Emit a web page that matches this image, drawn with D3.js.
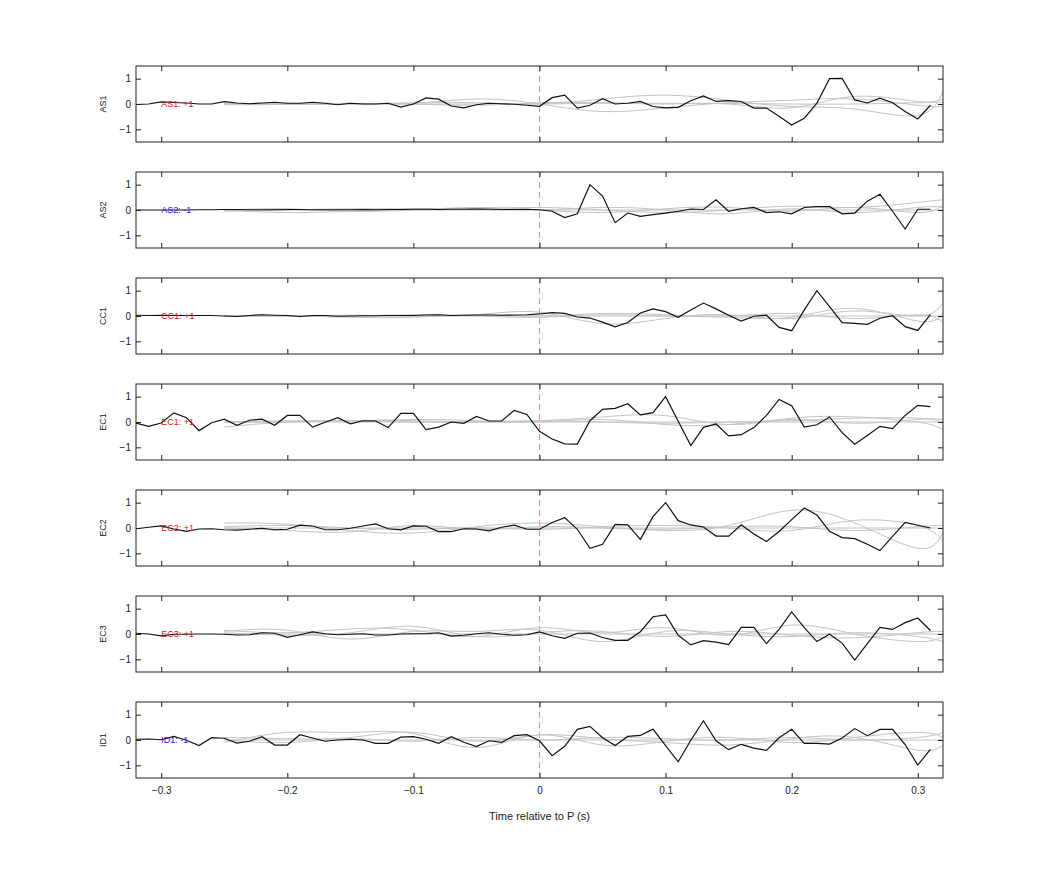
<!DOCTYPE html>
<html><head><meta charset="utf-8">
<script src="https://cdn.jsdelivr.net/npm/d3@7"></script>
<style>body{margin:0;background:#fff}svg{font-family:"Liberation Sans",Arial,sans-serif}</style>
</head><body><svg id="chart" width="1042" height="875"></svg>
<script>
// channels, sign labels
const channels = ['AS1','AS2','CC1','EC1','EC2','EC3','ID1']
const signs = ['+1','-1','+1','+1','+1','+1','-1']
const xTicks = [-0.3,-0.2,-0.1,0,0.1,0.2,0.3]
const yTicks = [-1,0,1]

// black trace, samples -0.32 .. 0.31 every 0.01
const sampleTimes = d3.range(64).map(i => Math.round((-0.32 + i*0.01)*100)/100)
const as1 = [-0.02,0,0.08,0.06,0.04,0,0,0.09,0.04,0.01,0.04,0.07,0.03,0.03,0.07,0.03,-0.03,0.03,0,0,0.03,-0.12,0,0.24,0.19,-0.08,-0.15,-0.03,0.03,0.01,-0.01,-0.05,-0.09,
  0.25,0.35,-0.16,-0.05,0.21,0,0.03,0.1,-0.1,-0.15,-0.13,0.13,0.32,0.1,0.13,0.1,-0.16,-0.16,-0.48,-0.83,-0.56,0.03,1.0,1.01,0.16,0.04,0.23,0.05,-0.3,-0.59,-0.05]
const as2 = [0,0,0,0,0,0.01,0.01,0.02,0.02,0.01,0.01,0.01,0.02,0.02,0.01,0.01,0.01,0.01,0.02,0.01,0.02,0.02,0.03,0.03,0.02,0.03,0.03,0.04,0.03,0.02,0.02,0.03,0.01,
  -0.05,-0.3,-0.15,1.0,0.55,-0.5,-0.12,-0.25,-0.18,-0.12,-0.05,0.04,0.02,0.4,-0.05,0.05,0.1,-0.1,-0.07,-0.15,0.1,0.13,0.13,-0.15,-0.12,0.35,0.62,-0.05,-0.75,0.03,0.03]
const cc1 = [0.03,0.02,0.03,0.02,0.02,0.02,0.02,0,-0.02,0.02,0.05,0.03,0.02,-0.02,0.02,0.02,-0.01,0,0.01,0.01,0.02,0.02,0.02,0.04,0.05,0.02,0.03,0.04,0.04,0.03,0.04,0.05,0.08,
  0.13,0.1,-0.04,-0.08,-0.24,-0.43,-0.26,0.12,0.28,0.17,-0.05,0.24,0.51,0.28,0.03,-0.2,-0.01,0.03,-0.45,-0.58,0.24,1.0,0.37,-0.26,-0.29,-0.33,-0.09,0.01,-0.42,-0.57,0.05]
const ec1 = [-0.04,-0.17,-0.04,0.36,0.17,-0.34,-0.03,0.11,-0.13,0.07,0.11,-0.13,0.26,0.26,-0.2,-0.01,0.17,-0.07,0.05,0.04,-0.22,0.34,0.34,-0.3,-0.2,0,-0.05,0.22,0.04,0.04,0.46,0.3,-0.37,
  -0.67,-0.86,-0.87,0.05,0.5,0.54,0.72,0.28,0.37,1.0,0.03,-0.93,-0.21,-0.08,-0.55,-0.5,-0.22,0.26,0.89,0.64,-0.2,-0.11,0.2,-0.42,-0.88,-0.53,-0.17,-0.26,0.26,0.66,0.61]
const ec2 = [-0.03,0.03,0.08,-0.04,-0.13,-0.04,-0.03,-0.07,-0.08,-0.05,-0.01,-0.07,-0.05,0.11,0.08,-0.07,-0.07,-0.01,0.08,0.16,-0.03,-0.07,0.08,0.07,-0.14,-0.14,-0.03,-0.04,-0.11,0.03,0.11,-0.05,-0.05,
  0.22,0.41,-0.05,-0.8,-0.64,0.14,0.12,-0.45,0.45,1.0,0.29,0.12,0.04,-0.32,-0.32,0.13,-0.24,-0.53,-0.14,0.33,0.79,0.51,-0.13,-0.38,-0.42,-0.64,-0.89,-0.33,0.22,0.11,0]
const ec3 = [0.03,0,-0.07,-0.01,-0.01,0,0,-0.01,-0.04,-0.03,0.05,0.03,-0.13,-0.03,0.08,0.01,-0.03,-0.01,0.01,-0.04,-0.04,0,0.01,0.01,0.05,-0.08,-0.05,0.01,0.05,-0.01,-0.05,-0.03,0.08,
  -0.07,-0.17,0.03,0.04,-0.14,-0.25,-0.25,0.09,0.68,0.75,-0.05,-0.43,-0.26,-0.32,-0.42,0.26,0.26,-0.38,0.18,0.87,0.25,-0.3,-0.01,-0.36,-1.03,-0.38,0.26,0.18,0.45,0.63,0.14]
const id1 = [0.03,0.04,0.01,0.14,-0.01,-0.22,0.09,0.07,-0.12,-0.05,0.13,-0.2,-0.2,0.21,0.08,-0.05,0,0.03,0,-0.13,-0.13,0.11,0.13,0.03,-0.13,0.13,-0.09,-0.26,-0.03,-0.09,0.17,0.21,-0.03,
  -0.62,-0.25,0.42,0.54,0.09,-0.22,0.14,0.18,0.43,-0.22,-0.86,-0.01,0.76,-0.03,-0.38,-0.17,-0.32,-0.41,0.09,0.42,-0.13,-0.13,-0.16,0.08,0.45,0.17,0.42,0.42,-0.18,-0.99,-0.37]
const traces = [as1,as2,cc1,ec1,ec2,ec3,id1]

// grey smooth curves, knots
const knotTimes = [-0.25,-0.2,-0.15,-0.1,-0.05,0,0.05,0.1,0.15,0.2,0.25,0.3,0.32]
const greys = [
  [[0.02,0,0.03,0.02,0.2,0,-0.3,-0.15,0.05,0.15,0.2,-0.05,-0.1],
   [0,0.02,0,0.05,0.05,0,0.2,0.35,0.15,-0.1,-0.2,-0.45,0.5],
   [-0.03,-0.02,0,0,-0.05,0.05,0.05,0,0,-0.15,0.3,0.1,0.2],
   [0,0,0,0,0,0,0.03,0.03,0.02,0,0,0.05,0.05]],
  [[0,-0.1,-0.05,0,0.05,0.1,0,-0.1,0,0.15,0.1,0.3,0.4],
   [-0.05,0,0.05,0.05,0.05,0,0.1,0,-0.15,0.05,-0.1,0.1,0.1],
   [0,0.05,-0.05,0,0.1,0,-0.1,0.05,0.1,-0.05,0.1,-0.1,0.2],
   [0,0,0,0,0,0,0,0,0,0,0,0,0]],
  [[0,0,0.03,0,0.05,0.15,-0.3,-0.1,0.05,-0.1,0.2,0,0.5],
   [0,0,-0.05,-0.05,0.05,0,0.1,0.05,0,0.1,-0.1,0.05,-0.25],
   [0,0.02,0,0.05,0,-0.05,0.05,0,-0.05,-0.05,0.3,-0.2,0.05],
   [0,0,0,0,0,0,0,0,0,0,0,0,0]],
  [[-0.2,0,0.05,0.05,0,0.05,0.2,0.25,-0.1,0.15,0.2,0,-0.3],
   [0,0.05,0.05,0.1,0.05,0,0.1,-0.1,-0.1,0.1,-0.05,0.1,0.1],
   [0,0,0.05,0,0,0.05,0,-0.05,0,0.05,0.15,0.15,0],
   [0,0,0,0,0,0,0,0,0,0,0,0,0]],
  [[0.2,0.15,-0.1,-0.2,0.05,0.2,0.05,-0.1,0.1,0.7,0.2,-0.8,-0.2],
   [0.05,0.1,0,-0.05,0,-0.05,0.05,0.1,0,-0.1,0.3,0.1,-0.5],
   [0,-0.1,-0.15,0.1,-0.05,0.05,0,-0.05,0.05,0.05,-0.1,0.05,0.1],
   [0,0,0,0,0,0,0,0,0,0,0,0,0]],
  [[0.15,0.05,0.2,0.15,-0.1,0.25,0.05,0.25,-0.05,0.35,0,-0.3,-0.1],
   [0.1,0.15,-0.2,0.1,0.1,0.15,-0.3,0.1,0,-0.1,0.05,-0.1,-0.3],
   [0.05,-0.05,0.05,0.3,-0.1,0.05,0.1,-0.1,0.1,-0.05,-0.15,0.05,0.1],
   [0,0,0,0,0,0,0,0,0,0,0,0,0]],
  [[-0.1,0.3,0.3,0.25,-0.3,0.2,-0.2,-0.05,0.1,-0.1,0.1,0.3,0.1],
   [0.1,0.05,0.1,0.3,-0.05,0.2,0.05,-0.1,-0.2,0.05,0.1,-0.4,-0.2],
   [0,-0.1,0.05,-0.05,0.1,0,0.1,0.05,0,0.1,0,0.1,0.3],
   [0,0,0,0,0,0,0,0,0,0,0,0,0]]
]

const svg = d3.select('#chart')
const left = 136, right = 943, top0 = 66, panelH = 76, step = 106
const x = d3.scaleLinear().domain([-0.32,0.32]).range([left,right])

channels.forEach((ch,i) => {
  const top = top0 + step*i
  const y = d3.scaleLinear().domain([-1.5,1.5]).range([top+panelH, top])
  const g = svg.append('g')
  const clipId = 'clip'+i
  g.append('clipPath').attr('id',clipId).append('rect')
    .attr('x',left).attr('y',top).attr('width',right-left).attr('height',panelH)
  const plot = g.append('g').attr('clip-path',`url(#${clipId})`)

  // zero line marker
  plot.append('line').attr('x1',x(0)).attr('x2',x(0)).attr('y1',top).attr('y2',top+panelH)
    .attr('stroke','#e87878').attr('stroke-dasharray','6,4').attr('stroke-width',0.8)

  const greyLine = d3.line().x((d,k) => x(knotTimes[k])).y(d => y(d)).curve(d3.curveNatural)
  greys[i].forEach(arr => {
    plot.append('path').attr('d',greyLine(arr)).attr('fill','none')
      .attr('stroke','#c4c4c4').attr('stroke-width',1)
  })

  const blackLine = d3.line().x((d,k) => x(sampleTimes[k])).y(d => y(d))
  plot.append('path').attr('d',blackLine(traces[i])).attr('fill','none')
    .attr('stroke','#111').attr('stroke-width',1.2)

  plot.append('text').attr('x',x(-0.3)).attr('y',y(0)+3).attr('font-size',9)
    .attr('fill',signs[i]==='+1' ? '#e0141e' : '#1a1adb').text(ch+': '+signs[i])

  // axes, inward ticks
  const ax = (a) => a.tickSizeInner(-5).tickSizeOuter(0)
  const bottom = g.append('g').attr('transform',`translate(0,${top+panelH})`)
    .call(ax(d3.axisBottom(x).tickValues(xTicks)).tickFormat(i===6 ? d3.format('') : ''))
  g.append('g').attr('transform',`translate(0,${top})`)
    .call(ax(d3.axisTop(x).tickValues(xTicks)).tickFormat(''))
  g.append('g').attr('transform',`translate(${left},0)`)
    .call(ax(d3.axisLeft(y).tickValues(yTicks)).tickFormat(d3.format('')))
  g.append('g').attr('transform',`translate(${right},0)`)
    .call(ax(d3.axisRight(y).tickValues(yTicks)).tickFormat(''))
  g.selectAll('.domain').remove()
  g.selectAll('.tick line').attr('stroke','#222')
  g.selectAll('.tick text').attr('font-size',10).attr('fill','#222').attr('font-family','Liberation Sans, Arial')
  bottom.selectAll('.tick text').attr('dy','1.3em')
  g.selectAll('.tick').filter(function(){return this.parentNode.getAttribute('transform')===`translate(${left},0)`})
    .select('text').attr('dx','-2')
  g.append('rect').attr('x',left).attr('y',top).attr('width',right-left).attr('height',panelH)
    .attr('fill','none').attr('stroke','#222').attr('stroke-width',1)

  g.append('text').attr('transform',`translate(${left-30},${top+panelH/2}) rotate(-90)`)
    .attr('text-anchor','middle').attr('font-size',9).attr('fill','#222').text(ch)
})

svg.append('text').attr('x',x(0)).attr('y',820).attr('text-anchor','middle')
  .attr('font-size',11).attr('fill','#222').text('Time relative to P (s)')
</script></body></html>
